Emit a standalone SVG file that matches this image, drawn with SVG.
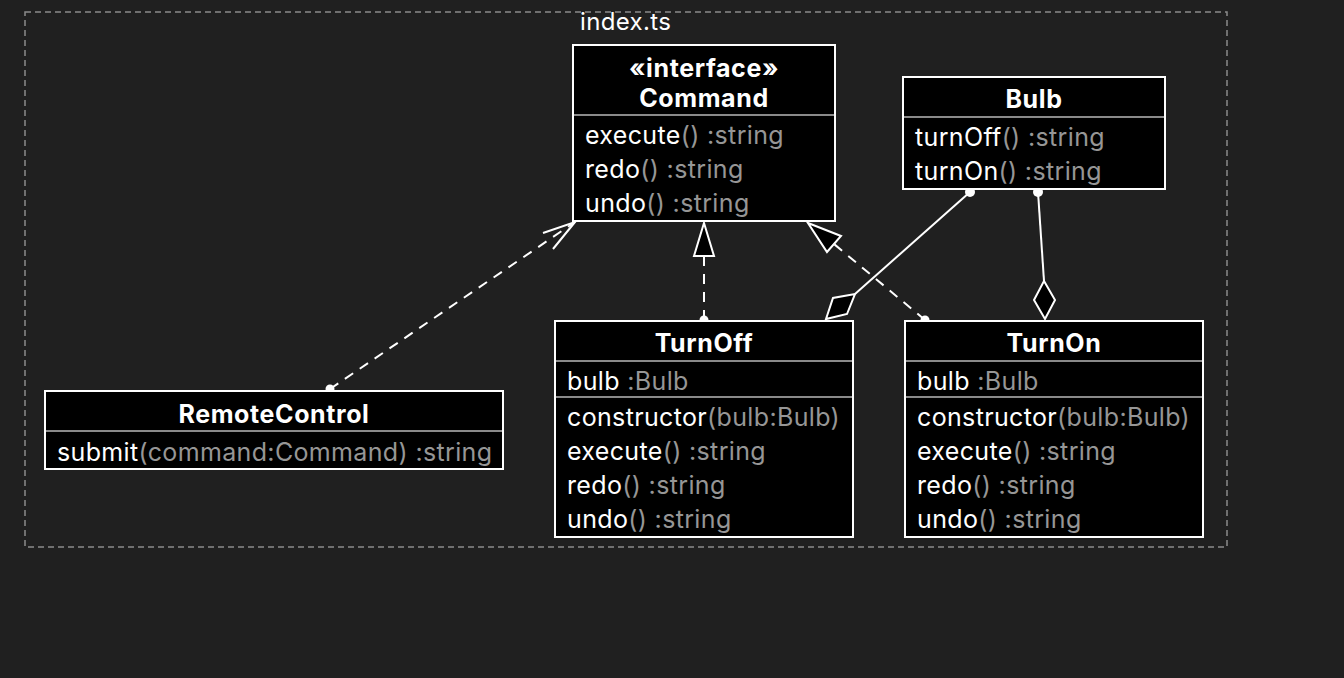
<svg xmlns="http://www.w3.org/2000/svg" width="1344" height="678" viewBox="0 0 1344 678">
<style>
text{font-family:Inter,"Noto Sans","Liberation Sans",sans-serif;font-size:25px;letter-spacing:0.35px;fill:#ffffff}
.t{font-weight:bold;text-anchor:middle;letter-spacing:0.6px}
.g{fill:#969696}
.box{fill:#000;stroke:#fff;stroke-width:2}
.div{stroke:#8a8a8a;stroke-width:2}
.ln{stroke:#fff;stroke-width:2;fill:none}
.dash{stroke-dasharray:10 8}
.dot{fill:#fff}
.hol{fill:#000;stroke:#fff;stroke-width:2}
</style>
<rect width="1344" height="678" fill="#202020"/>
<g id="package">
<rect x="25" y="12" width="1202" height="535" fill="none" stroke="#8a8a8a" stroke-width="1.5" stroke-dasharray="6 4"/>
<text x="580" y="30" style="font-size:24px">index.ts</text>
</g>
<g id="connectors">
<line class="ln dash" x1="330" y1="389" x2="575" y2="222"/>
<polyline class="ln" points="543,233 575,222 553,249"/>
<circle class="dot" cx="330" cy="389" r="4.5"/>
<line class="ln dash" x1="704" y1="320" x2="704" y2="256"/>
<polygon class="hol" points="704,223 714,256 694,256"/>
<circle class="dot" cx="704" cy="320" r="4.5"/>
<line class="ln dash" x1="925" y1="320" x2="834" y2="244"/>
<polygon class="hol" points="808,223 841,236 827,252"/>
<circle class="dot" cx="925" cy="320" r="4.5"/>
<line class="ln" x1="970" y1="192" x2="855" y2="294"/>
<polygon class="hol" points="826,319 833,298 855,294 847,314"/>
<circle class="dot" cx="970" cy="192" r="5"/>
<line class="ln" x1="1038" y1="192" x2="1044" y2="281"/>
<polygon class="hol" points="1044,281 1055,300 1045,319 1034,300"/>
<circle class="dot" cx="1038" cy="192" r="5"/>
</g>
<g id="Command">
<rect class="box" x="573" y="45" width="262" height="176"/>
<text class="t" x="704" y="77">«interface»</text>
<text class="t" x="704" y="107">Command</text>
<line class="div" x1="574" y1="115" x2="834" y2="115"/>
<text x="585" y="144">execute<tspan class="g">() :string</tspan></text>
<text x="585" y="178">redo<tspan class="g">() :string</tspan></text>
<text x="585" y="212">undo<tspan class="g">() :string</tspan></text>
</g>
<g id="Bulb">
<rect class="box" x="903" y="77" width="262" height="112"/>
<text class="t" x="1034" y="108">Bulb</text>
<line class="div" x1="904" y1="117" x2="1164" y2="117"/>
<text x="915" y="146">turnOff<tspan class="g">() :string</tspan></text>
<text x="915" y="180">turnOn<tspan class="g">() :string</tspan></text>
</g>
<g id="TurnOff">
<rect class="box" x="555" y="321" width="298" height="216"/>
<text class="t" x="704" y="352">TurnOff</text>
<line class="div" x1="556" y1="361" x2="852" y2="361"/>
<text x="567" y="390">bulb<tspan class="g"> :Bulb</tspan></text>
<line class="div" x1="556" y1="397" x2="852" y2="397"/>
<text x="567" y="426">constructor<tspan class="g">(bulb:Bulb)</tspan></text>
<text x="567" y="460">execute<tspan class="g">() :string</tspan></text>
<text x="567" y="494">redo<tspan class="g">() :string</tspan></text>
<text x="567" y="528">undo<tspan class="g">() :string</tspan></text>
</g>
<g id="TurnOn">
<rect class="box" x="905" y="321" width="298" height="216"/>
<text class="t" x="1054" y="352">TurnOn</text>
<line class="div" x1="906" y1="361" x2="1202" y2="361"/>
<text x="917" y="390">bulb<tspan class="g"> :Bulb</tspan></text>
<line class="div" x1="906" y1="397" x2="1202" y2="397"/>
<text x="917" y="426">constructor<tspan class="g">(bulb:Bulb)</tspan></text>
<text x="917" y="460">execute<tspan class="g">() :string</tspan></text>
<text x="917" y="494">redo<tspan class="g">() :string</tspan></text>
<text x="917" y="528">undo<tspan class="g">() :string</tspan></text>
</g>
<g id="RemoteControl">
<rect class="box" x="45" y="391" width="458" height="78"/>
<text class="t" x="274" y="423">RemoteControl</text>
<line class="div" x1="46" y1="431" x2="502" y2="431"/>
<text x="57" y="461">submit<tspan class="g">(command:Command) :string</tspan></text>
</g>
</svg>
